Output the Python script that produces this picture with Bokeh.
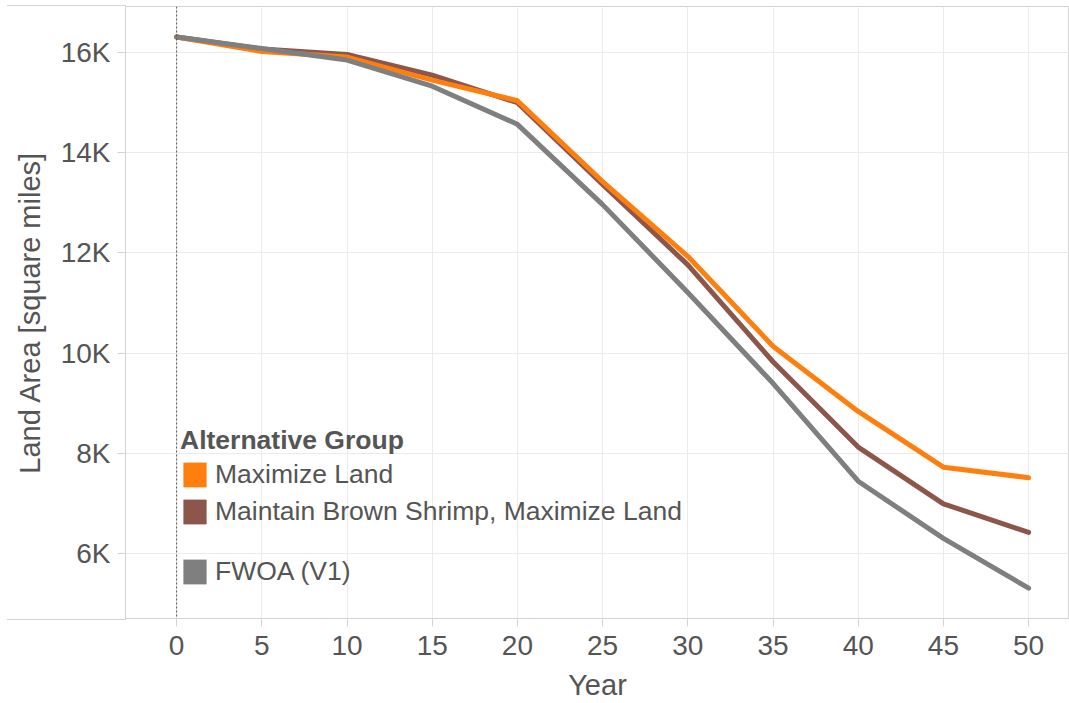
from bokeh.plotting import figure
from bokeh.models import Span, Legend, LegendItem, FixedTicker, Range1d, InlineStyleSheet
from bokeh.embed import file_html
from bokeh.resources import INLINE

# ---- data ----
years = [0, 5, 10, 15, 20, 25, 30, 35, 40, 45, 50]
maximize_land = [16300, 16010, 15900, 15440, 15030, 13420, 11930, 10140, 8840, 7730, 7520]
brown_shrimp = [16300, 16060, 15950, 15540, 14990, 13360, 11760, 9830, 8130, 7000, 6430]
fwoa = [16300, 16070, 15840, 15320, 14560, 12960, 11210, 9400, 7450, 6310, 5320]
series_names = ["Maximize Land", "Maintain Brown Shrimp, Maximize Land", "FWOA (V1)"]
series_colors = ["#ff7f0e", "#8c564b", "#7f7f7f"]
x_ticks = [0, 5, 10, 15, 20, 25, 30, 35, 40, 45, 50]
y_ticks = [6000, 8000, 10000, 12000, 14000, 16000]
y_tick_labels = ["6K", "8K", "10K", "12K", "14K", "16K"]
legend_title = "Alternative Group"
x_title = "Year"
y_title = "Land Area [square miles]"

FONT = "Liberation Sans"
TEXT = "#555555"
AXIS = "#d4d4d4"
GRID = "#ebebeb"
NAN = float("nan")

W, H = 1069, 703
p = figure(width=W, height=H, output_backend="svg", toolbar_location=None,
           x_range=Range1d(-3, 52.4), y_range=Range1d(4715, 16907),
           min_border_left=125, min_border_right=0, min_border_top=6, min_border_bottom=83)
p.outline_line_color = AXIS
p.outline_line_width = 1
p.background_fill_color = "white"
p.border_fill_color = "white"

# header / axis border lines continuing left of the frame (pure CSS decoration)
p.stylesheets = [InlineStyleSheet(css=(
    ":host { position: relative; }"
    ":host::before, :host::after { content: ''; position: absolute; left: 7px; width: 119px;"
    " height: 1px; background: " + AXIS + "; z-index: 5; pointer-events: none; }"
    ":host::before { top: 5px; }"
    ":host::after { top: 619px; }"
))]

# axes
for ax in (p.xaxis[0], p.yaxis[0]):
    ax.axis_line_color = AXIS
    ax.axis_line_width = 1
    ax.major_tick_line_color = AXIS
    ax.major_tick_in = 0
    ax.major_tick_out = 8
    ax.minor_tick_line_color = None
    ax.major_label_text_font = FONT
    ax.major_label_text_font_size = "28px"
    ax.major_label_text_color = TEXT
    ax.axis_label_text_font = FONT
    ax.axis_label_text_font_size = "29px"
    ax.axis_label_text_font_style = "normal"
    ax.axis_label_text_color = TEXT

p.xaxis.ticker = FixedTicker(ticks=x_ticks)
p.yaxis.ticker = FixedTicker(ticks=y_ticks)
p.yaxis.major_label_overrides = {t: l for t, l in zip(y_ticks, y_tick_labels)}
p.xaxis.axis_label = x_title
p.yaxis.axis_label = y_title
p.xaxis.major_label_standoff = 9
p.xaxis.axis_label_standoff = 11
p.yaxis.major_label_standoff = 7
p.yaxis.axis_label_standoff = 12

p.xgrid.grid_line_color = GRID
p.ygrid.grid_line_color = GRID

# zero reference line
p.add_layout(Span(location=0, dimension="height", line_color="#555555",
                  line_dash="2 2", line_width=1))

# series lines (brown under orange under gray)
kw = dict(line_width=5, line_cap="round", line_join="round")
p.line(years, brown_shrimp, line_color=series_colors[1], **kw)
p.line(years, maximize_land, line_color=series_colors[0], **kw)
p.line(years, fwoa, line_color=series_colors[2], **kw)

# legend swatches (no visible data, only their legend glyphs)
sw = [p.quad(left=[NAN], right=[NAN], top=[NAN], bottom=[NAN], fill_color=c, line_color=None)
      for c in series_colors]

leg1 = Legend(items=[LegendItem(label=series_names[0], renderers=[sw[0]]),
                     LegendItem(label=series_names[1], renderers=[sw[1]])],
              location=(55, 91.5), title=legend_title)
leg2 = Legend(items=[LegendItem(label=series_names[2], renderers=[sw[2]])],
              location=(55, 31))
for lg in (leg1, leg2):
    lg.glyph_width = 29
    lg.glyph_height = 31
    lg.label_height = 31
    lg.label_standoff = 6
    lg.spacing = 6
    lg.padding = 0
    lg.margin = 0
    lg.background_fill_alpha = 0
    lg.border_line_alpha = 0
    lg.label_text_font = FONT
    lg.label_text_font_size = "26.5px"
    lg.label_text_color = TEXT
    lg.title_text_font = FONT
    lg.title_text_font_size = "26.5px"
    lg.title_text_font_style = "bold"
    lg.title_text_color = TEXT
    lg.title_standoff = 3
    p.add_layout(lg, "center")

open("out.html", "w").write(file_html(p, INLINE))
